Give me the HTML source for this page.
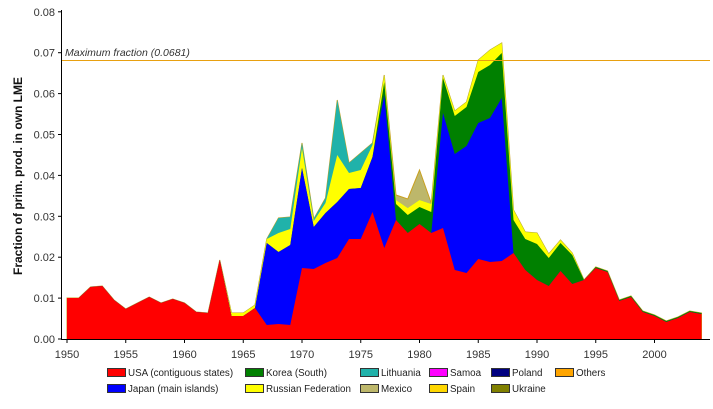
<!DOCTYPE html>
<html><head><meta charset="utf-8"><style>
body{margin:0;background:#fff;}
svg{display:block;font-family:"Liberation Sans",Arial,sans-serif;}
</style></head><body>
<svg id="s" width="713" height="409" xmlns="http://www.w3.org/2000/svg">
<g id="areas"></g>
<line x1="61" y1="60.5" x2="710" y2="60.5" stroke="#e8a010" stroke-width="1"/>
<text x="65" y="56" font-size="10.5" font-style="italic" fill="#333">Maximum fraction (0.0681)</text>
<line x1="61.5" y1="10" x2="61.5" y2="339" stroke="#000"/>
<line x1="61" y1="339.5" x2="710" y2="339.5" stroke="#000"/>
<g id="ticks" font-size="11" fill="#333"></g>
<text transform="translate(22,176) rotate(-90)" text-anchor="middle" font-size="12" font-weight="bold" fill="#111">Fraction of prim. prod. in own LME</text>
<g font-size="9.8" fill="#222">
<rect x="107.5" y="368.5" width="18" height="8" fill="#ff0000" stroke="#333"/><text x="128" y="376">USA (contiguous states)</text>
<rect x="107.5" y="384.5" width="18" height="8" fill="#0000ff" stroke="#333"/><text x="128" y="392">Japan (main islands)</text>
<rect x="245.5" y="368.5" width="18" height="8" fill="#008000" stroke="#333"/><text x="266" y="376">Korea (South)</text>
<rect x="245.5" y="384.5" width="18" height="8" fill="#ffff00" stroke="#333"/><text x="266" y="392">Russian Federation</text>
<rect x="360.5" y="368.5" width="18" height="8" fill="#20b2aa" stroke="#333"/><text x="381" y="376">Lithuania</text>
<rect x="360.5" y="384.5" width="18" height="8" fill="#bdb76b" stroke="#333"/><text x="381" y="392">Mexico</text>
<rect x="429.5" y="368.5" width="18" height="8" fill="#ff00ff" stroke="#333"/><text x="450" y="376">Samoa</text>
<rect x="429.5" y="384.5" width="18" height="8" fill="#ffd700" stroke="#333"/><text x="450" y="392">Spain</text>
<rect x="491.5" y="368.5" width="18" height="8" fill="#000080" stroke="#333"/><text x="512" y="376">Poland</text>
<rect x="491.5" y="384.5" width="18" height="8" fill="#808000" stroke="#333"/><text x="512" y="392">Ukraine</text>
<rect x="555.5" y="368.5" width="18" height="8" fill="#ffa500" stroke="#333"/><text x="576" y="376">Others</text>
</g>
</svg>
<script>
var NS="http://www.w3.org/2000/svg";
function X(i){return 67+i*11.75;}
var R=[298,298,287,286,300,309,303,297,303,299,303,312,313,260,316,316,308,325,324,325,268,269,263,258,239,239,212,248,220,233,224,233,228,270,273,259,262,261,253,270,280,286,271,284,280,268,272,301,297,312,316,322,318,312,314];
function cp(a,ch){var b=a.slice();for(var k in ch)b[k-1950]=ch[k];return b;}
var B=cp(R,{1967:243,1968:252,1969:245,1970:168,1971:227,1972:213,1973:202,1974:189,1975:188,1976:157,1977:95,1982:113,1983:154,1984:146,1985:123,1986:118,1987:98});
var G=cp(B,{1977:82,1978:204,1979:215,1980:207,1981:212,1982:78,1983:116,1984:107,1985:72,1986:65,1987:53,1988:220,1989:239,1990:244,1991:258,1992:243,1993:255,1994:280,1995:267,1996:271,1997:300,1998:296,1999:311,2000:315,2001:321,2002:317,2003:311,2004:313});
var Y=cp(G,{1964:313,1965:313,1966:305,1967:239,1968:233,1969:229,1970:148,1971:221,1972:203,1973:155,1974:173,1975:170,1976:145,1977:75,1978:200,1979:208,1980:200,1981:204,1982:75,1983:111,1984:102,1985:60,1986:50,1987:43,1988:210,1989:232,1990:233,1991:254,1992:240,1993:253});
var T=cp(Y,{1968:218,1969:217,1970:143,1971:219,1972:198,1973:100,1974:163,1975:153,1976:143});
var M=cp(T,{1978:195,1979:199,1980:170,1981:203});
var layers=[[M,"#bdb76b"],[T,"#20b2aa"],[Y,"#ffff00"],[G,"#008000"],[B,"#0000ff"],[R,"#ff0000"]];
var g=document.getElementById("areas");
layers.forEach(function(l,idx){
 var a=l[0],d="M"+X(0)+",339";
 for(var i=0;i<a.length;i++)d+=" L"+X(i)+","+a[i];
 d+=" L"+X(a.length-1)+",339Z";
 var p=document.createElementNS(NS,"path");p.setAttribute("d",d);p.setAttribute("fill",l[1]);
 if(idx==0){p.setAttribute("stroke","#c8a020");p.setAttribute("stroke-width","1");}
 g.appendChild(p);
});
var t=document.getElementById("ticks");
for(var v=0;v<=8;v++){
 var y=339-v*40.9;
 var tx=document.createElementNS(NS,"text");tx.setAttribute("x","55");tx.setAttribute("y",y+4);tx.setAttribute("text-anchor","end");tx.textContent=(v/100).toFixed(2);t.appendChild(tx);
 var ln=document.createElementNS(NS,"line");ln.setAttribute("x1","58");ln.setAttribute("x2","61");ln.setAttribute("y1",y);ln.setAttribute("y2",y);ln.setAttribute("stroke","#000");t.appendChild(ln);
}
for(var yr=1950;yr<=2000;yr+=5){
 var x=X(yr-1950);
 var tx=document.createElementNS(NS,"text");tx.setAttribute("x",x);tx.setAttribute("y","358");tx.setAttribute("text-anchor","middle");tx.textContent=yr;t.appendChild(tx);
 var ln=document.createElementNS(NS,"line");ln.setAttribute("x1",x);ln.setAttribute("x2",x);ln.setAttribute("y1","339");ln.setAttribute("y2","343");ln.setAttribute("stroke","#000");t.appendChild(ln);
}
</script>
</body></html>
